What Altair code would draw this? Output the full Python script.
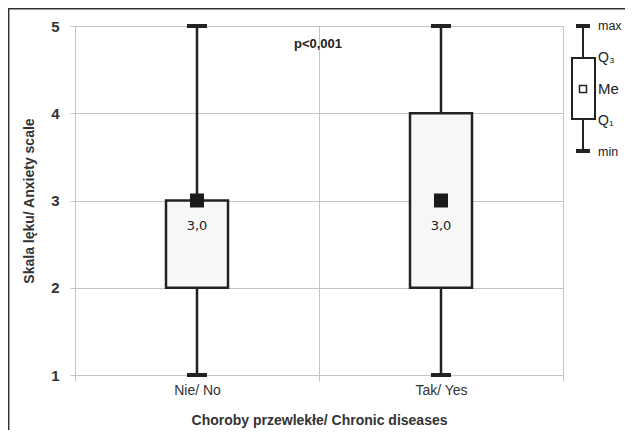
import altair as alt
import pandas as pd

categories = ["Nie/ No", "Tak/ Yes"]
mins = [1, 1]
q1s = [2, 2]
medians = [3, 3]
q3s = [3, 4]
maxs = [5, 5]
median_labels = ["3,0", "3,0"]

df = pd.DataFrame({"cat": categories, "min": mins, "q1": q1s, "med": medians,
                   "q3": q3s, "max": maxs, "lab": median_labels})

W, H = 488, 349
FONT = "Liberation Sans"
DARK = "#222222"
GRID = "#c4c4c4"

xenc = alt.X("cat:N", sort=categories,
             scale=alt.Scale(paddingInner=0, paddingOuter=0),
             axis=alt.Axis(title="Choroby przewlekłe/ Chronic diseases", labelAngle=0,
                           tickBand="extent", grid=True, gridColor=GRID, domain=False,
                           ticks=True, tickColor=GRID, tickSize=6, labelPadding=2,
                           labelFont=FONT, labelFontSize=14, labelColor="#333333",
                           titleFont=FONT, titleFontSize=14, titleFontWeight="bold",
                           titleColor="#333333", titlePadding=16))
yscale = alt.Scale(domain=[1, 5], nice=False, zero=False)
yaxis = alt.Axis(title="Skala lęku/ Anxiety scale", values=[1, 2, 3, 4, 5], format="d",
                 grid=True, gridColor=GRID, domain=False, tickColor=GRID, tickSize=5,
                 labelPadding=11, labelFont=FONT, labelFontSize=15, labelFontWeight="bold",
                 labelColor="#333333", titleFont=FONT, titleFontSize=14,
                 titleFontWeight="bold", titleColor="#333333", titlePadding=14)

base = alt.Chart(df)

whisker = base.mark_rule(color=DARK, strokeWidth=2.5).encode(
    x=xenc, y=alt.Y("min:Q", scale=yscale, axis=yaxis), y2="max:Q")
box = base.mark_bar(size=62, fill="#f7f7f7", stroke=DARK, strokeWidth=2.5).encode(
    x=alt.X("cat:N", sort=categories), y="q1:Q", y2="q3:Q")
cap_lo = base.mark_tick(color=DARK, size=20, thickness=4, opacity=1).encode(
    x=alt.X("cat:N", sort=categories), y="min:Q")
cap_hi = base.mark_tick(color=DARK, size=20, thickness=4, opacity=1).encode(
    x=alt.X("cat:N", sort=categories), y="max:Q")
med = base.mark_square(size=196, color="#1a1a1a", opacity=1).encode(
    x=alt.X("cat:N", sort=categories), y="med:Q")
medtxt = base.mark_text(font="DejaVu Sans", fontSize=13, color=DARK, dy=25).encode(
    x=alt.X("cat:N", sort=categories), y="med:Q", text="lab:N")

one = alt.Chart(pd.DataFrame({"t": ["p<0,001"]}))
ptxt = one.mark_text(font=FONT, fontSize=13, fontWeight="bold", color=DARK).encode(
    x=alt.value(W / 2 - 1), y=alt.value(18), text="t:N")

# legend key (right side)
lx = 508
leg = [
    one.mark_rule(color=DARK, strokeWidth=2).encode(x=alt.value(lx), y=alt.value(0), y2=alt.value(125)),
    one.mark_rule(color=DARK, strokeWidth=4).encode(x=alt.value(lx - 7), x2=alt.value(lx + 7), y=alt.value(0)),
    one.mark_rule(color=DARK, strokeWidth=4).encode(x=alt.value(lx - 7), x2=alt.value(lx + 7), y=alt.value(125)),
    one.mark_rect(fill="white", stroke=DARK, strokeWidth=2).encode(
        x=alt.value(lx - 11), x2=alt.value(lx + 12), y=alt.value(32), y2=alt.value(93)),
    one.mark_square(size=49, filled=False, color=DARK, strokeWidth=1.5, opacity=1).encode(
        x=alt.value(lx), y=alt.value(63)),
]
leg_labels = ["max", "Q\u2083", "Me", "Q\u2081", "min"]
leg_y = [0, 32, 63, 95, 126]
leg_sizes = [12.5, 14, 15, 14, 12.5]
for lab, yy, fs in zip(leg_labels, leg_y, leg_sizes):
    leg.append(alt.Chart(pd.DataFrame({"t": [lab]})).mark_text(
        font=FONT, fontSize=fs, color=DARK, align="left", baseline="middle").encode(
        x=alt.value(lx + 15), y=alt.value(yy), text="t:N"))

frame = [
    one.mark_rule(color="#333333", strokeWidth=1.5).encode(
        x=alt.value(-67), x2=alt.value(W + 70), y=alt.value(-17.3)),
    one.mark_rule(color="#333333", strokeWidth=1.5).encode(
        x=alt.value(-66.3), y=alt.value(-18), y2=alt.value(H + 70)),
]

chart = alt.layer(whisker, box, cap_lo, cap_hi, med, medtxt, ptxt, *leg, *frame).properties(
    width=W, height=H,
    autosize=alt.AutoSizeParams(type="none"),
    padding={"left": 67, "top": 18, "right": 62, "bottom": 55},
).configure_view(stroke=GRID, strokeWidth=1).configure(background="white")

chart.save("out.html", embed_options={"renderer": "svg", "actions": False})
